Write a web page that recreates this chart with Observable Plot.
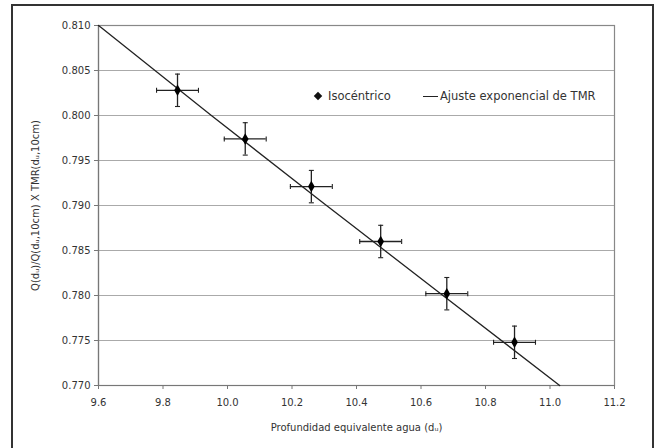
<!DOCTYPE html>
<html>
<head>
<meta charset="utf-8">
<script src="https://cdn.jsdelivr.net/npm/d3@7"></script>
<script src="https://cdn.jsdelivr.net/npm/@observablehq/plot@0.6"></script>
<style>
  html, body { margin: 0; padding: 0; background: #fff; }
  #wrap { position: relative; width: 656px; height: 448px; overflow: hidden; font-family: "DejaVu Sans", sans-serif; }
  #border { position: absolute; left: 11px; top: 4px; width: 643px; height: 460px; border: 2px solid #333; box-sizing: border-box; pointer-events: none; }
  #chart { position: absolute; left: 0; top: 0; }
  #legend { position: absolute; left: 315px; top: 89px; font-size: 11.5px; color: #333; display: flex; align-items: center; white-space: nowrap; }
  #legend .dia { display: inline-block; width: 6px; height: 6px; background: #111; transform: rotate(45deg); margin-right: 7px; }
  #legend .ln { display: inline-block; width: 15px; height: 0; border-top: 1.3px solid #222; margin: 0 2px 0 32px; }
</style>
</head>
<body>
<div id="wrap">
  <div id="chart"></div>
  <div id="legend"><span class="dia"></span><span>Isocéntrico</span><span class="ln"></span><span>Ajuste exponencial de TMR</span></div>
  <div id="border"></div>
</div>
<script>
// Data
const depth = [9.845, 10.055, 10.26, 10.475, 10.68, 10.89];
const ratio = [0.8028, 0.7974, 0.7921, 0.7860, 0.7802, 0.7748];
const xErr = [0.065, 0.065, 0.065, 0.065, 0.065, 0.065];
const yErr = [0.0018, 0.0018, 0.0018, 0.0018, 0.0018, 0.0018];
const fitDepth = [9.6, 9.95, 10.3, 10.65, 11.03];
const fitRatio = [0.8100, 0.8000, 0.7902, 0.7805, 0.7700];
const xTicks = [9.6, 9.8, 10.0, 10.2, 10.4, 10.6, 10.8, 11.0, 11.2];
const yTicks = [0.770, 0.775, 0.780, 0.785, 0.790, 0.795, 0.800, 0.805, 0.810];

const pts = depth.map((d, i) => ({x: d, y: ratio[i], ex: xErr[i], ey: yErr[i]}));
const fit = fitDepth.map((d, i) => ({x: d, y: fitRatio[i]}));

// custom cap symbols
const hCap = {draw(ctx, size) { const r = Math.sqrt(size / Math.PI); ctx.moveTo(-r, 0); ctx.lineTo(r, 0); }};
const vCap = {draw(ctx, size) { const r = Math.sqrt(size / Math.PI); ctx.moveTo(0, -r); ctx.lineTo(0, r); }};

const chart = Plot.plot({
  width: 656,
  height: 448,
  marginLeft: 98,
  marginRight: 42,
  marginTop: 25,
  marginBottom: 63,
  style: {fontFamily: "DejaVu Sans, sans-serif", fontSize: "10px", color: "#333", background: "transparent"},
  x: {domain: [9.6, 11.2], label: null},
  y: {domain: [0.770, 0.810], label: null},
  marks: [
    Plot.gridY(yTicks, {stroke: "#aaa", strokeOpacity: 1, strokeWidth: 1.2}),
    Plot.frame({stroke: "#888", strokeWidth: 1.2}),
    Plot.ruleX([9.6], {stroke: "#777", strokeWidth: 1.2}),
    Plot.ruleY([0.770], {stroke: "#777", strokeWidth: 1.2}),
    Plot.axisX({ticks: xTicks, tickFormat: d3.format(".1f"), tickSize: 4, tickPadding: 9, stroke: "#777", fill: "#333"}),
    Plot.axisY({ticks: yTicks, tickFormat: d3.format(".3f"), tickSize: 4, tickPadding: 4, stroke: "#777", fill: "#333"}),
    Plot.line(fit, {x: "x", y: "y", stroke: "#222", strokeWidth: 1.3, curve: "natural"}),
    Plot.ruleY(pts, {y: "y", x1: d => d.x - d.ex, x2: d => d.x + d.ex, stroke: "#222", strokeWidth: 1.3}),
    Plot.ruleX(pts, {x: "x", y1: d => d.y - d.ey, y2: d => d.y + d.ey, stroke: "#222", strokeWidth: 1.3}),
    Plot.dot(pts, {x: "x", y: d => d.y - d.ey, symbol: hCap, r: 2.5, stroke: "#222", strokeWidth: 1.1}),
    Plot.dot(pts, {x: "x", y: d => d.y + d.ey, symbol: hCap, r: 2.5, stroke: "#222", strokeWidth: 1.1}),
    Plot.dot(pts, {x: d => d.x - d.ex, y: "y", symbol: vCap, r: 2.5, stroke: "#222", strokeWidth: 1.1}),
    Plot.dot(pts, {x: d => d.x + d.ex, y: "y", symbol: vCap, r: 2.5, stroke: "#222", strokeWidth: 1.1}),
    Plot.dot(pts, {x: "x", y: "y", symbol: "diamond", r: 3.5, fill: "#000", stroke: "none"}),
    Plot.text(["Profundidad equivalente agua (d\u1D64)"], {frameAnchor: "bottom", dy: 45, fill: "#333", fontSize: 10}),
    Plot.text(["Q(d\u1D64)/Q(d\u1D64,10cm) X TMR(d\u1D64,10cm)"], {frameAnchor: "left", dx: -63, rotate: -90, textAnchor: "middle", fill: "#333", fontSize: 10})
  ]
});
document.getElementById("chart").appendChild(chart);
</script>
</body>
</html>
